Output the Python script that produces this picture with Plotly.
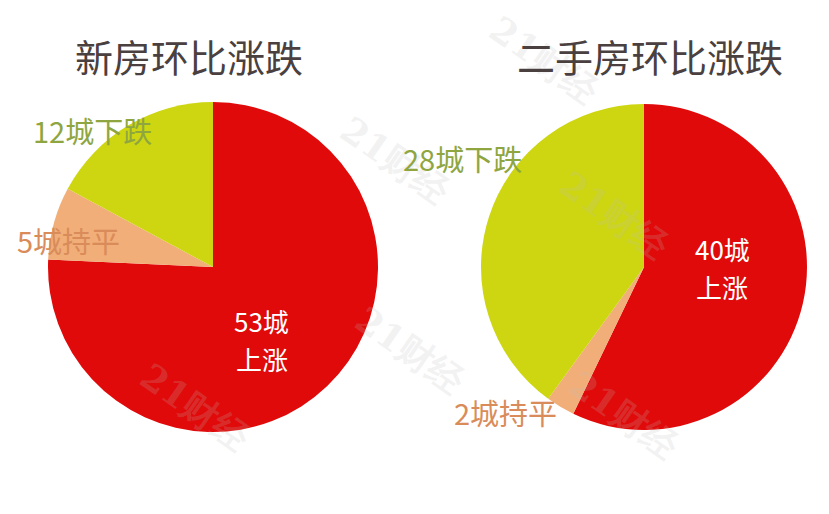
import plotly.graph_objects as go

categories = ["上涨", "持平", "下跌"]
new_home = [53, 5, 12]
second_home = [40, 2, 28]
titles = ["新房环比涨跌", "二手房环比涨跌"]
colors = ["#E10A0A", "#F2AE78", "#CDD611"]

FONT = "Noto Sans CJK SC"
W, H = 829, 514
OFF = 8  # page body margin

fig = go.Figure()

def px_dom(cx, cy, r):
    cx -= OFF
    cy -= OFF
    return dict(x=[(cx - r) / W, (cx + r) / W], y=[(H - cy - r) / H, (H - cy + r) / H])

fig.add_trace(go.Pie(labels=categories, values=new_home, sort=False, direction="clockwise",
                     rotation=0, marker=dict(colors=colors, line=dict(width=0)),
                     textinfo="none", hoverinfo="label+value", domain=px_dom(213, 267, 165),
                     showlegend=False))
fig.add_trace(go.Pie(labels=categories, values=second_home, sort=False, direction="clockwise",
                     rotation=0, marker=dict(colors=colors, line=dict(width=0)),
                     textinfo="none", hoverinfo="label+value", domain=px_dom(644, 267, 163),
                     showlegend=False))

ann = []
def add(text, x, y, size, color, xanchor="center"):
    ann.append(dict(text=text, x=(x - OFF) / W, y=1 - (y - OFF) / H, xref="paper", yref="paper",
                    showarrow=False, xanchor=xanchor, yanchor="middle",
                    font=dict(family=FONT, size=size, color=color)))

# watermarks
for (wx, wy) in [(395, 105), (680, 215), (410, 350), (130, 462), (690, 470), (610, 5)]:
    ann.append(dict(text="<b>21财经</b>", x=(wx - OFF) / W, y=1 - (wy - OFF) / H,
                    xref="paper", yref="paper", showarrow=False, textangle=35,
                    font=dict(family="DejaVu Serif", size=36, color="rgba(190,190,190,0.2)")))

add(titles[0], 189, 55, 38, "#4A4040")
add(titles[1], 650, 55, 38, "#4A4040")

add(f"{new_home[0]}城", 262, 320, 26, "#FFFFFF")
add(categories[0], 262, 358, 26, "#FFFFFF")
add(f"{new_home[2]}城{categories[2]}", 31, 130, 29, "#8FA640", "left")
add(f"{new_home[1]}城{categories[1]}", 15, 240, 29, "#D98C5A", "left")

add(f"{second_home[0]}城", 722, 248, 26, "#FFFFFF")
add(categories[0], 722, 286, 26, "#FFFFFF")
add(f"{second_home[2]}城{categories[2]}", 401, 158, 29, "#8FA640", "left")
add(f"{second_home[1]}城{categories[1]}", 452, 412, 29, "#D98C5A", "left")

fig.update_layout(width=W, height=H, margin=dict(l=0, r=0, t=0, b=0),
                  paper_bgcolor="#FFFFFF", plot_bgcolor="#FFFFFF",
                  annotations=ann, font=dict(family=FONT))

fig.write_html("out.html")
